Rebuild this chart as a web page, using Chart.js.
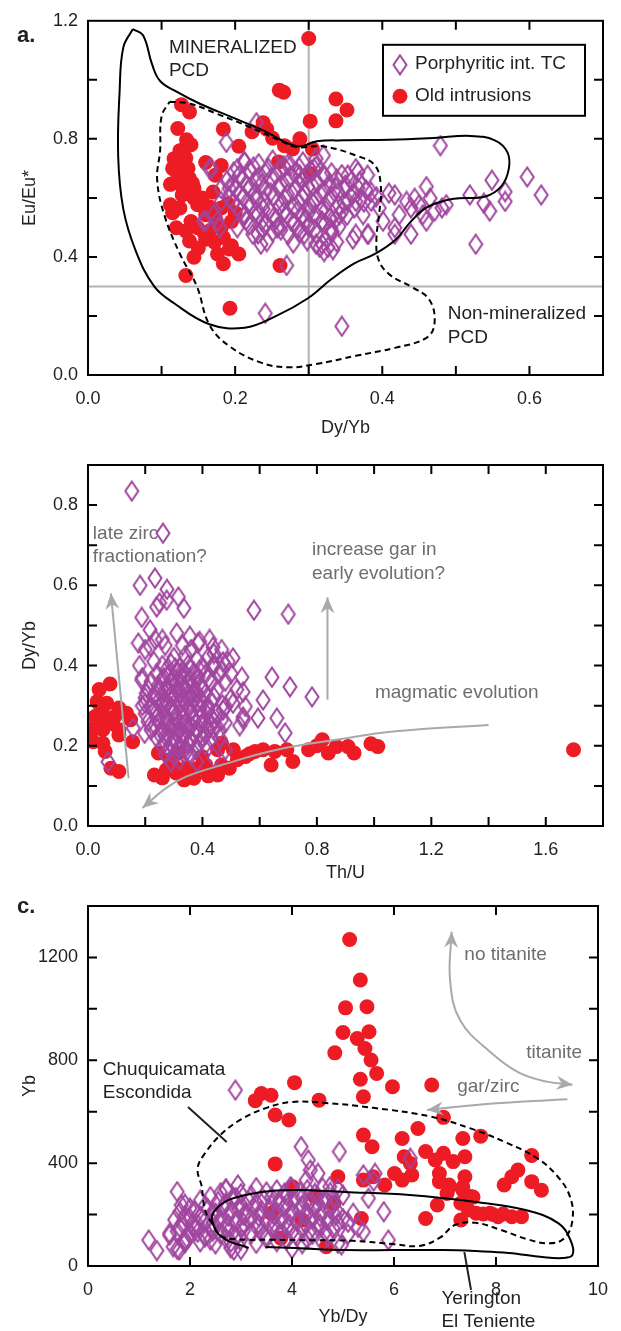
<!DOCTYPE html>
<html><head><meta charset="utf-8">
<script src="https://cdn.jsdelivr.net/npm/chart.js@4.4.1/dist/chart.umd.min.js"></script>
<style>
html,body{margin:0;padding:0;background:#fff;}
body{width:621px;height:1331px;position:relative;overflow:hidden;}
canvas{position:absolute;left:0;}
</style></head><body>
<canvas id="ca" width="621" height="450" style="top:0px"></canvas>
<canvas id="cb" width="621" height="450" style="top:440px"></canvas>
<canvas id="cc" width="621" height="451" style="top:880px"></canvas>
<script>
// ================= Panel a : Eu/Eu* vs Dy/Yb =================
const aXTicks = [0, 0.2, 0.4, 0.6];
const aXMinor = [0.1, 0.2, 0.3, 0.4, 0.5, 0.6];
const aYTicks = [0, 0.4, 0.8, 1.2];
const aYMinor = [0.2, 0.4, 0.6, 0.8, 1.0];
const aPorph = [
[0.188,0.788],[0.229,0.855],[0.479,0.777],[0.597,0.671],[0.616,0.61],[0.549,0.66],[0.519,0.61],[0.527,0.443],
[0.567,0.621],[0.567,0.588],[0.546,0.555],[0.538,0.582],[0.241,0.209],[0.345,0.165],[0.27,0.371],
[0.46,0.638],[0.444,0.599],[0.433,0.588],[0.481,0.566],[0.46,0.521],[0.439,0.477],[0.417,0.499],[0.409,0.616],
[0.396,0.566],[0.364,0.588],[0.364,0.477],[0.381,0.477],[0.353,0.677],[0.367,0.688],[0.32,0.677],[0.31,0.733],
[0.288,0.677],[0.275,0.71],[0.235,0.443],[0.224,0.477],[0.203,0.499],[0.16,0.521],[0.176,0.521],[0.31,0.443],
[0.326,0.432],[0.294,0.477],[0.257,0.499],[0.213,0.543],[0.192,0.632],[0.181,0.632],[0.168,0.699],[0.203,0.699],
[0.213,0.722],[0.417,0.61],[0.423,0.543],[0.401,0.521],[0.45,0.577],[0.455,0.543],[0.465,0.599],[0.471,0.555],
[0.487,0.577],[0.439,0.566],[0.417,0.477],[0.32,0.744],[0.307,0.7],[0.337,0.633],[0.353,0.588],[0.342,0.543],
[0.331,0.488],[0.315,0.432],[0.36,0.46],[0.38,0.477],[0.374,0.543],[0.367,0.633],[0.385,0.588],[0.364,0.699],
[0.38,0.677],[0.369,0.655],[0.157,0.521],[0.171,0.543],[0.179,0.499],[0.181,0.588],[0.165,0.699],
[0.212,0.724],[0.232,0.716],[0.251,0.728],[0.271,0.713],[0.292,0.722],
[0.198,0.688],[0.219,0.695],[0.241,0.684],[0.262,0.697],[0.282,0.686],[0.303,0.692],[0.331,0.685],
[0.189,0.658],[0.21,0.664],[0.228,0.652],[0.249,0.667],[0.27,0.655],[0.291,0.662],[0.312,0.651],[0.338,0.664],[0.358,0.657],
[0.201,0.628],[0.22,0.635],[0.241,0.622],[0.259,0.634],[0.281,0.626],[0.299,0.637],[0.321,0.624],[0.349,0.632],[0.378,0.627],
[0.192,0.598],[0.211,0.604],[0.229,0.593],[0.252,0.606],[0.268,0.596],[0.291,0.603],[0.309,0.592],[0.331,0.607],[0.371,0.598],[0.392,0.604],
[0.203,0.568],[0.222,0.576],[0.238,0.563],[0.261,0.574],[0.279,0.566],[0.302,0.572],[0.318,0.561],[0.341,0.575],[0.362,0.566],
[0.212,0.538],[0.231,0.545],[0.252,0.533],[0.27,0.546],[0.291,0.535],[0.309,0.544],[0.329,0.532],[0.352,0.541],
[0.219,0.508],[0.242,0.515],[0.259,0.503],[0.281,0.514],[0.299,0.506],[0.322,0.512],[0.341,0.503],
[0.231,0.478],[0.251,0.486],[0.272,0.475],[0.288,0.484],[0.311,0.476],[0.332,0.483],
[0.243,0.452],[0.279,0.447],[0.298,0.455],[0.318,0.444],[0.338,0.451],[0.321,0.418],[0.333,0.425],
[0.225,0.705],[0.245,0.701],[0.266,0.708],[0.287,0.703],[0.31,0.707],
[0.205,0.675],[0.232,0.671],[0.255,0.678],[0.276,0.672],[0.297,0.677],[0.322,0.674],[0.345,0.679],
[0.198,0.645],[0.216,0.641],[0.236,0.648],[0.262,0.643],[0.286,0.647],[0.305,0.642],[0.328,0.648],[0.35,0.644],
[0.206,0.615],[0.226,0.611],[0.248,0.618],[0.271,0.613],[0.294,0.617],[0.316,0.612],[0.34,0.618],[0.36,0.614],[0.385,0.619],
[0.198,0.585],[0.218,0.581],[0.24,0.588],[0.264,0.583],[0.286,0.587],[0.306,0.582],[0.326,0.588],[0.348,0.584],[0.375,0.586],
[0.207,0.555],[0.228,0.551],[0.246,0.558],[0.266,0.553],[0.285,0.557],[0.3,0.552],[0.323,0.558],[0.345,0.554],
[0.215,0.525],[0.236,0.521],[0.256,0.528],[0.276,0.523],[0.296,0.527],[0.318,0.522],[0.336,0.526],
[0.238,0.495],[0.262,0.491],[0.286,0.498],[0.308,0.493],[0.33,0.497]
];
const aOld = [
[0.30,1.14],[0.26,0.965],[0.266,0.958],[0.337,0.935],[0.352,0.898],[0.337,0.861],[0.302,0.86],
[0.127,0.916],[0.138,0.891],[0.122,0.835],[0.184,0.833],[0.223,0.824],[0.238,0.855],[0.243,0.833],[0.251,0.802],
[0.267,0.777],[0.278,0.766],[0.288,0.80],[0.305,0.766],[0.205,0.775],
[0.134,0.797],[0.131,0.766],[0.133,0.735],[0.117,0.733],[0.12,0.70],[0.136,0.70],[0.122,0.677],[0.138,0.666],
[0.112,0.646],[0.128,0.638],[0.144,0.633],[0.16,0.72],[0.181,0.71],[0.173,0.677],[0.259,0.722],[0.302,0.683],
[0.112,0.577],[0.125,0.566],[0.144,0.599],[0.149,0.577],[0.16,0.543],[0.12,0.499],[0.133,0.488],[0.149,0.499],
[0.165,0.488],[0.181,0.499],[0.173,0.532],[0.138,0.454],[0.16,0.46],[0.184,0.466],[0.144,0.399],[0.176,0.41],
[0.192,0.427],[0.205,0.41],[0.184,0.377],[0.133,0.337],[0.261,0.371],[0.193,0.226],
[0.125,0.76],[0.14,0.78],[0.115,0.7],[0.128,0.61],[0.155,0.6],[0.165,0.57],[0.14,0.52],[0.158,0.48],[0.172,0.45],
[0.15,0.43],[0.115,0.55],[0.19,0.58],[0.2,0.55],[0.195,0.52],[0.13,0.68],[0.142,0.65],[0.17,0.62],[0.181,0.566],[0.195,0.438]
];
const aMineralizedPCD = [[0.061,1.172],[0.075,1.15],[0.087,1.053],[0.098,0.996],[0.121,0.959],[0.152,0.919],[0.193,0.876],
[0.238,0.829],[0.284,0.775],[0.311,0.792],[0.347,0.795],[0.41,0.797],[0.47,0.803],[0.52,0.81],[0.553,0.795],[0.57,0.755],
[0.572,0.699],[0.562,0.64],[0.54,0.605],[0.497,0.597],[0.462,0.57],[0.44,0.523],[0.418,0.458],[0.39,0.41],[0.362,0.378],
[0.331,0.325],[0.299,0.26],[0.256,0.2],[0.213,0.16],[0.165,0.172],[0.117,0.243],[0.09,0.3],[0.065,0.42],[0.048,0.562],
[0.041,0.742],[0.043,0.963],[0.048,1.11],[0.061,1.172]];
const aNonMineralizedPCD = [[0.111,0.926],[0.139,0.919],[0.175,0.885],[0.22,0.84],[0.26,0.795],[0.284,0.772],[0.319,0.775],
[0.366,0.742],[0.39,0.71],[0.398,0.64],[0.396,0.55],[0.392,0.46],[0.395,0.39],[0.41,0.34],[0.44,0.298],[0.464,0.255],
[0.471,0.176],[0.46,0.126],[0.417,0.092],[0.364,0.065],[0.31,0.037],[0.272,0.026],[0.235,0.042],[0.192,0.098],[0.165,0.17],
[0.148,0.3],[0.125,0.41],[0.104,0.54],[0.094,0.662],[0.098,0.76],[0.1,0.876],[0.111,0.926]];
const aRefV = [[0.3,0],[0.3,1.2]];
const aRefH = [[0,0.3],[0.7,0.3]];

// ================= Panel b : Dy/Yb vs Th/U =================
const bXTicks = [0, 0.4, 0.8, 1.2, 1.6];
const bXMinor = [0.2, 0.4, 0.6, 0.8, 1.0, 1.2, 1.4, 1.6];
const bYTicks = [0, 0.2, 0.4, 0.6, 0.8];
const bYMinor = [0.1, 0.2, 0.3, 0.4, 0.5, 0.6, 0.7, 0.8];
const bPorph = [
[0.153,0.835],[0.262,0.73],[0.182,0.6],[0.234,0.618],[0.275,0.563],[0.316,0.571],[0.335,0.543],[0.24,0.546],[0.188,0.52],
[0.58,0.538],[0.7,0.528],[0.176,0.456],[0.217,0.489],[0.31,0.481],[0.188,0.364],[0.2,0.306],[0.158,0.244],[0.07,0.16],
[0.643,0.371],[0.706,0.347],[0.783,0.322],[0.538,0.371],[0.542,0.334],[0.612,0.314],[0.689,0.232],[0.66,0.269],
[0.594,0.269],[0.542,0.272],[0.507,0.306],[0.472,0.289],[0.507,0.419],[0.472,0.409],[0.437,0.446],
[0.235,0.465],[0.26,0.465],[0.218,0.448],[0.356,0.473],[0.384,0.456],[0.425,0.465],[0.467,0.44],[0.467,0.39],
[0.439,0.398],[0.55,0.298],[0.543,0.265],[0.481,0.298],[0.467,0.265],[0.439,0.24],[0.198,0.231],[0.204,0.331],
[0.25,0.556],[0.276,0.59],[0.2,0.44],[0.23,0.41],[0.18,0.4],[0.19,0.37],[0.27,0.45],[0.33,0.45],[0.36,0.44],
[0.39,0.46],[0.44,0.43],[0.49,0.41],[0.5,0.38],[0.52,0.34],[0.53,0.25],[0.46,0.22],[0.48,0.19],[0.44,0.17],[0.38,0.16],
[0.30,0.42],[0.34,0.425],[0.38,0.415],[0.42,0.42],
[0.26,0.40],[0.29,0.405],[0.32,0.395],[0.35,0.402],[0.40,0.398],[0.44,0.404],
[0.24,0.38],[0.28,0.376],[0.31,0.385],[0.34,0.378],[0.37,0.383],[0.41,0.377],[0.46,0.381],
[0.22,0.36],[0.26,0.365],[0.29,0.356],[0.32,0.362],[0.35,0.355],[0.38,0.364],[0.43,0.358],[0.48,0.361],
[0.21,0.34],[0.25,0.336],[0.28,0.345],[0.31,0.338],[0.34,0.343],[0.37,0.335],[0.40,0.344],[0.45,0.338],
[0.20,0.32],[0.23,0.324],[0.27,0.316],[0.30,0.323],[0.33,0.317],[0.36,0.325],[0.39,0.318],[0.44,0.322],[0.50,0.318],
[0.19,0.30],[0.22,0.296],[0.26,0.305],[0.29,0.297],[0.32,0.303],[0.35,0.296],[0.38,0.304],[0.42,0.298],[0.47,0.302],
[0.20,0.28],[0.24,0.284],[0.27,0.276],[0.30,0.283],[0.33,0.277],[0.36,0.285],[0.40,0.278],[0.45,0.282],
[0.21,0.26],[0.25,0.265],[0.28,0.256],[0.31,0.263],[0.34,0.257],[0.37,0.264],[0.41,0.258],[0.44,0.262],[0.48,0.257],
[0.22,0.24],[0.26,0.236],[0.29,0.245],[0.32,0.238],[0.35,0.244],[0.38,0.237],[0.42,0.243],[0.46,0.239],
[0.24,0.22],[0.27,0.224],[0.30,0.216],[0.33,0.223],[0.36,0.217],[0.40,0.222],[0.43,0.218],
[0.26,0.20],[0.29,0.204],[0.32,0.196],[0.35,0.203],[0.38,0.197],[0.41,0.202],
[0.27,0.18],[0.30,0.176],[0.33,0.184],[0.36,0.178],[0.29,0.16],[0.32,0.165],
[0.275,0.39],[0.305,0.394],[0.33,0.387],[0.36,0.392],[0.39,0.388],
[0.265,0.37],[0.295,0.366],[0.325,0.373],[0.355,0.368],[0.385,0.372],[0.42,0.367],
[0.245,0.35],[0.275,0.346],[0.305,0.353],[0.335,0.348],[0.365,0.352],[0.395,0.347],
[0.235,0.33],[0.265,0.334],[0.29,0.327],[0.32,0.332],[0.35,0.328],[0.38,0.333],[0.41,0.329],
[0.245,0.31],[0.275,0.306],[0.31,0.313],[0.34,0.308],[0.37,0.312],[0.40,0.307],[0.43,0.311],
[0.235,0.29],[0.265,0.294],[0.30,0.287],[0.33,0.292],[0.36,0.288],[0.39,0.293],[0.42,0.289],
[0.24,0.27],[0.275,0.266],[0.305,0.273],[0.335,0.268],[0.365,0.272],[0.39,0.267],[0.43,0.271],
[0.235,0.25],[0.27,0.254],[0.30,0.247],[0.33,0.252],[0.36,0.248],[0.395,0.253],[0.43,0.249],
[0.25,0.23],[0.28,0.226],[0.31,0.233],[0.34,0.228],[0.37,0.232],[0.41,0.227],
[0.27,0.21],[0.30,0.214],[0.33,0.207],[0.36,0.212],[0.39,0.208],
[0.285,0.19],[0.315,0.194],[0.345,0.187],[0.375,0.192]
];
const bOld = [
[0.039,0.34],[0.077,0.354],[0.032,0.31],[0.066,0.306],[0.108,0.294],[0.025,0.273],[0.06,0.273],[0.094,0.273],[0.149,0.265],
[0.018,0.24],[0.052,0.24],[0.108,0.24],[0.018,0.21],[0.052,0.206],[0.108,0.227],[0.156,0.21],[0.06,0.186],[0.08,0.144],
[0.108,0.136],[0.025,0.248],[0.135,0.281],[0.045,0.29],[0.085,0.255],
[0.232,0.127],[0.246,0.182],[0.287,0.165],[0.308,0.132],[0.336,0.115],[0.37,0.119],[0.342,0.144],[0.384,0.144],[0.412,0.152],
[0.453,0.127],[0.467,0.152],[0.494,0.144],[0.522,0.165],[0.508,0.19],[0.55,0.173],[0.584,0.186],[0.612,0.19],[0.64,0.152],
[0.653,0.186],[0.695,0.19],[0.716,0.161],[0.771,0.19],[0.819,0.215],[0.84,0.182],[0.868,0.198],[0.93,0.182],[0.989,0.205],
[1.013,0.198],[1.697,0.19],[0.453,0.19],[0.398,0.173],[0.315,0.182],[0.274,0.14],[0.467,0.206],[0.909,0.198],[0.8,0.2],
[0.439,0.132],[0.565,0.18],[0.36,0.13],[0.3,0.15],[0.42,0.125],[0.26,0.12]
];
const bArrowZircon = [[0.142,0.119],[0.08,0.58]];
const bArrowGarnet = [[0.837,0.315],[0.837,0.57]];
const bArrowMagmatic = [[1.4,0.252],[1.075,0.236],[0.868,0.215],[0.66,0.19],[0.467,0.152],[0.343,0.123],[0.274,0.095],[0.19,0.045]];

// ================= Panel c : Yb vs Yb/Dy =================
const cXTicks = [0, 2, 4, 6, 8, 10];
const cXMinor = [2, 4, 6, 8];
const cYTicks = [0, 400, 800, 1200];
const cYMinor = [200, 400, 600, 800, 1000, 1200];
const cPorph = [
[2.89,684],[4.18,464],[4.93,445],[6.32,419],[4.32,412],[4.36,373],[1.75,289],[2.94,315],[2.71,298],[1.83,237],[1.19,101],
[1.35,60],[1.6,127],[1.67,75],[1.79,62],[1.9,101],[2.06,153],[2.21,192],[2.29,114],[2.44,205],[2.86,62],[5.8,211],
[5.5,263],[5.4,354],[5.4,133],[5.63,360],[4.97,82],[5.89,101],[5.2,205],[4.74,308],[4.51,360],[4.28,334],[3.97,308],
[5.6,330],[5.3,150],[5.1,170],
[2.7,300],[3.3,305],[3.7,296],[4.0,302],[4.3,297],[4.6,304],[4.9,298],
[2.4,270],[2.9,266],[3.2,274],[3.6,268],[3.9,273],[4.2,265],[4.5,272],[4.8,267],[5.0,275],
[1.9,240],[2.3,236],[2.7,244],[3.0,238],[3.3,245],[3.6,237],[3.9,243],[4.2,236],[4.5,244],[4.8,239],
[1.8,210],[2.1,214],[2.5,206],[2.8,213],[3.1,207],[3.4,215],[3.7,208],[4.0,212],[4.3,205],[4.6,213],[4.9,208],
[1.7,180],[2.0,184],[2.3,176],[2.6,183],[2.9,177],[3.2,185],[3.5,178],[3.8,182],[4.1,175],[4.4,183],[4.7,178],[5.0,184],
[1.8,150],[2.1,154],[2.4,146],[2.7,153],[3.0,147],[3.3,155],[3.6,148],[3.9,152],[4.2,145],[4.5,153],[4.8,148],
[1.6,120],[2.0,124],[2.3,116],[2.6,123],[2.9,117],[3.2,125],[3.5,118],[3.8,122],[4.1,115],[4.4,123],[4.7,118],[5.1,124],
[1.9,90],[2.2,94],[2.5,86],[2.8,93],[3.3,88],[3.7,95],[4.2,87],[4.6,92],[4.9,88],
[1.75,65],[2.8,70],[3.0,64],[4.0,68],
[2.6,285],[3.0,281],[3.5,288],[3.85,283],[4.15,287],[4.45,282],[4.75,286],
[2.2,255],[2.55,251],[2.85,258],[3.15,253],[3.45,257],[3.75,252],[4.05,258],[4.35,253],[4.65,257],
[2.0,225],[2.35,221],[2.65,228],[2.95,223],[3.25,227],[3.55,222],[3.85,228],[4.15,223],[4.45,227],[4.75,222],
[1.9,195],[2.2,191],[2.45,198],[2.75,193],[3.05,197],[3.35,192],[3.65,198],[3.95,193],[4.25,197],[4.55,192],[4.85,196],
[1.85,165],[2.15,161],[2.45,168],[2.75,163],[3.05,167],[3.35,162],[3.65,168],[3.95,163],[4.25,167],[4.55,162],[4.9,166],
[1.75,135],[2.15,131],[2.45,138],[2.75,133],[3.05,137],[3.4,132],[3.7,138],[4.0,133],[4.35,137],[4.65,132],
[1.95,105],[2.4,101],[2.7,108],[3.0,103],[3.5,107],[3.9,102],[4.3,106]
];
const cOld = [
[5.13,1270],[5.34,1112],[5.05,1004],[5.47,1008],[5.0,908],[5.51,911],[4.84,829],[5.28,885],[5.43,846],[5.55,801],
[5.66,749],[5.34,726],[5.4,658],[4.05,713],[5.97,697],[6.74,704],[3.28,643],[3.4,671],[3.59,664],[3.67,587],[3.94,568],
[4.53,645],[6.97,578],[6.47,535],[5.4,509],[5.57,464],[6.16,496],[7.35,496],[7.7,505],[3.67,397],[6.2,425],[6.32,399],
[6.62,445],[6.81,412],[6.97,438],[7.16,406],[7.39,425],[8.7,430],[6.01,360],[6.16,334],[6.35,354],[6.89,360],[6.89,328],
[7.08,315],[7.39,347],[7.04,282],[7.35,295],[7.5,270],[7.31,244],[7.46,218],[7.61,205],[7.88,205],[8.04,192],[8.31,192],
[8.5,192],[8.16,315],[8.31,347],[8.43,373],[8.7,328],[8.89,295],[6.62,185],[6.85,237],[7.31,179],[5.82,315],[5.59,347],
[5.4,334],[4.9,347],[5.36,185],[4.44,270],[4.67,75],[3.78,108],[3.59,205],[4.01,308],[4.82,244],[4.2,179],[7.75,202],
[7.94,200],[8.14,202],[7.09,307],[7.35,307],[7.55,268]
];
const cChuquicamata = [[2.23,310],[2.15,380],[2.3,440],[2.6,510],[3.0,570],[3.5,615],[4.0,638],[4.6,635],[5.6,615],[6.7,582],
[7.5,535],[8.2,480],[8.8,420],[9.2,350],[9.45,270],[9.5,180],[9.35,110],[9.05,88],[8.6,105],[8.1,140],[7.6,168],[7.2,160],
[6.9,110],[6.5,78],[6.0,85],[5.2,98],[4.4,100],[3.6,102],[2.9,104],[2.6,118],[2.45,160],[2.3,215],[2.23,310]];
const cYerington = [[3.15,70],[2.62,113],[2.43,179],[2.5,218],[2.76,257],[3.4,288],[4.06,296],[5.03,288],[6.31,276],[7.61,249],
[8.58,218],[9.22,167],[9.46,101],[9.5,43],[9.3,31],[8.91,35],[8.25,51],[7.61,58],[6.97,62],[6.0,62],[5.03,62],[4.06,70],[3.48,74]];
const cArrowTitanite = [[7.13,1300],[7.1,1110],[7.3,955],[7.9,830],[8.45,752],[9.0,717],[9.5,705]];
const cArrowGarZirc = [[9.4,648],[8.0,633],[6.65,607]];
const cLeaderChuqui = [[1.96,618],[2.72,482]];
const cLeaderYerington = [[7.38,54],[7.51,-93]];

// ================= styling =================
const FONT = '"Liberation Sans", Arial, Helvetica, sans-serif';
const RED = '#ed1c24', PURPLE = '#a1459f', GRAY = '#a7a9ac', TXT = '#231f20', GTXT = '#6d6e71';

function diamondImg() {
  const c = document.createElement('canvas'); c.width = 16; c.height = 22;
  const g = c.getContext('2d'); g.strokeStyle = PURPLE; g.lineWidth = 2;
  g.beginPath(); g.moveTo(8, 1.5); g.lineTo(14.5, 11); g.lineTo(8, 20.5); g.lineTo(1.5, 11); g.closePath(); g.stroke();
  return c;
}
const DIAMOND = diamondImg();

function porphDS(d) { return {label: 'Porphyritic int. TC', data: d, pointStyle: DIAMOND, order: 1}; }
function oldDS(d) { return {label: 'Old intrusions', data: d, pointStyle: 'circle', pointRadius: 7.5, backgroundColor: RED, borderWidth: 0, order: 2}; }
function lineDS(d, color, dash, order, width) {
  return {data: d, showLine: true, pointRadius: 0, borderColor: color, borderWidth: width || 2, borderDash: dash || [],
          tension: 0.4, fill: false, order: order};
}

function head(ctx, x1, y1, x2, y2) {
  const a = Math.atan2(y2 - y1, x2 - x1), L = 16, W = 7;
  ctx.save(); ctx.translate(x2, y2); ctx.rotate(a); ctx.fillStyle = GRAY;
  ctx.beginPath(); ctx.moveTo(0, 0); ctx.lineTo(-L, -W); ctx.lineTo(-L * 0.68, 0); ctx.lineTo(-L, W); ctx.closePath(); ctx.fill();
  ctx.restore();
}

function decor(spec) {
  return {
    id: 'decor',
    afterDatasetsDraw(chart) {
      const {ctx, scales: {x, y}} = chart;
      const X = v => x.getPixelForValue(v), Y = v => y.getPixelForValue(v);
      ctx.save();
      (spec.heads || []).forEach(([p, q]) => head(ctx, X(p[0]), Y(p[1]), X(q[0]), Y(q[1])));
      (spec.leaders || []).forEach(l => {
        ctx.strokeStyle = TXT; ctx.lineWidth = 2; ctx.beginPath();
        ctx.moveTo(X(l[0][0]), Y(l[0][1])); ctx.lineTo(X(l[1][0]), Y(l[1][1])); ctx.stroke();
      });
      ctx.textBaseline = 'middle';
      (spec.texts || []).forEach(t => {
        ctx.font = '19px ' + FONT; ctx.fillStyle = t.c || TXT; ctx.textAlign = t.align || 'left';
        ctx.fillText(t.s, X(t.x), Y(t.y));
      });
      ctx.restore();
    },
    afterDraw(chart) {
      const {ctx, chartArea: ca, scales: {x, y}} = chart;
      ctx.save();
      ctx.strokeStyle = '#000'; ctx.lineWidth = 2;
      ctx.strokeRect(ca.left, ca.top, ca.right - ca.left, ca.bottom - ca.top);
      const T = 9;
      ctx.beginPath();
      spec.xMinor.forEach(v => { const p = x.getPixelForValue(v);
        ctx.moveTo(p, ca.bottom); ctx.lineTo(p, ca.bottom - T); ctx.moveTo(p, ca.top); ctx.lineTo(p, ca.top + T); });
      spec.yMinor.forEach(v => { const p = y.getPixelForValue(v);
        ctx.moveTo(ca.left, p); ctx.lineTo(ca.left + T, p); ctx.moveTo(ca.right, p); ctx.lineTo(ca.right - T, p); });
      ctx.stroke();
      if (spec.letter) {
        ctx.font = 'bold 22px ' + FONT; ctx.fillStyle = TXT; ctx.textBaseline = 'middle'; ctx.textAlign = 'left';
        ctx.fillText(spec.letter, 17, spec.letterY);
      }
      if (spec.legend) {
        const lx = ca.left + 295, ly = ca.top + 24;
        ctx.lineWidth = 2; ctx.strokeStyle = '#000';
        ctx.strokeRect(lx, ly, 202, 71);
        ctx.drawImage(DIAMOND, lx + 17 - 8, ly + 20 - 11);
        ctx.fillStyle = RED; ctx.beginPath(); ctx.arc(lx + 17, ly + 51.5, 7.5, 0, Math.PI * 2); ctx.fill();
        ctx.font = '19px ' + FONT; ctx.fillStyle = TXT; ctx.textBaseline = 'middle'; ctx.textAlign = 'left';
        ctx.fillText(chart.data.datasets[0].label, lx + 32, ly + 19);
        ctx.fillText(chart.data.datasets[1].label, lx + 32, ly + 51);
      }
      ctx.restore();
    }
  };
}

function makeChart(id, spec) {
  return new Chart(document.getElementById(id), {
    type: 'scatter',
    data: {datasets: spec.datasets},
    options: {
      responsive: false, animation: false, devicePixelRatio: 1, events: [],
      layout: {padding: {left: 0, right: 18, top: spec.plotTop, bottom: 0}},
      plugins: {legend: {display: false}, tooltip: {enabled: false}},
      scales: {
        x: {type: 'linear', min: spec.xMin, max: spec.xMax,
            afterFit: s => { s.height = spec.xH; },
            afterBuildTicks: s => { s.ticks = spec.xTicks.map(v => ({value: v})); },
            grid: {display: false, drawTicks: false}, border: {display: false},
            ticks: {color: TXT, font: {family: FONT, size: 18}, padding: 13, maxRotation: 0, autoSkip: false,
                    callback: v => spec.fmt(v)},
            title: {display: true, text: spec.xTitle, color: TXT, font: {family: FONT, size: 18},
                    padding: {top: 0, bottom: spec.xTitlePad}}},
        y: {type: 'linear', min: spec.yMin, max: spec.yMax,
            afterFit: s => { s.width = 88; },
            afterBuildTicks: s => { s.ticks = spec.yTicks.map(v => ({value: v})); },
            grid: {display: false, drawTicks: false}, border: {display: false},
            ticks: {color: TXT, font: {family: FONT, size: 18}, padding: 10, autoSkip: false,
                    callback: v => spec.fmt(v)},
            title: {display: true, text: spec.yTitle, color: TXT, font: {family: FONT, size: 18},
                    padding: {top: 19, bottom: 0}}}
      }
    },
    plugins: [decor(spec)]
  });
}

const f1 = v => v.toFixed(1), f0 = v => String(Math.round(v));

makeChart('ca', {
  plotTop: 16, xH: 75, xTitlePad: 11, xMin: 0, xMax: 0.7, yMin: 0, yMax: 1.2,
  xTicks: aXTicks, yTicks: aYTicks, xMinor: aXMinor, yMinor: aYMinor, fmt: f1,
  xTitle: 'Dy/Yb', yTitle: 'Eu/Eu*', letter: 'a.', letterY: 36, legend: true,
  datasets: [porphDS(aPorph), oldDS(aOld),
    lineDS(aMineralizedPCD, '#000', [], 0), lineDS(aNonMineralizedPCD, '#000', [6, 4], 0),
    lineDS(aRefV, '#b3b3b3', [], 3), lineDS(aRefH, '#b3b3b3', [], 3)],
  texts: [
    {s: 'MINERALIZED', x: 0.110, y: 1.11}, {s: 'PCD', x: 0.110, y: 1.03},
    {s: 'Non-mineralized', x: 0.489, y: 0.207}, {s: 'PCD', x: 0.489, y: 0.127}
  ]
});

makeChart('cb', {
  plotTop: 25, xH: 64, xTitlePad: 6, xMin: 0, xMax: 1.8, yMin: 0, yMax: 0.9,
  xTicks: bXTicks, yTicks: bYTicks, xMinor: bXMinor, yMinor: bYMinor, fmt: f1,
  xTitle: 'Th/U', yTitle: 'Dy/Yb',
  datasets: [porphDS(bPorph), oldDS(bOld),
    lineDS(bArrowZircon, GRAY, [], 0), lineDS(bArrowGarnet, GRAY, [], 0), lineDS(bArrowMagmatic, GRAY, [], 0)],
  heads: [[bArrowZircon[0], bArrowZircon[1]], [bArrowGarnet[0], bArrowGarnet[1]],
          [bArrowMagmatic[bArrowMagmatic.length - 2], bArrowMagmatic[bArrowMagmatic.length - 1]]],
  texts: [
    {s: 'late zirc', x: 0.017, y: 0.728, c: GTXT}, {s: 'fractionation?', x: 0.017, y: 0.671, c: GTXT},
    {s: 'increase gar in', x: 0.783, y: 0.688, c: GTXT}, {s: 'early evolution?', x: 0.783, y: 0.628, c: GTXT},
    {s: 'magmatic evolution', x: 1.003, y: 0.332, c: GTXT}
  ]
});

makeChart('cc', {
  plotTop: 26, xH: 65, xTitlePad: 3, xMin: 0, xMax: 10, yMin: 0, yMax: 1400,
  xTicks: cXTicks, yTicks: cYTicks, xMinor: cXMinor, yMinor: cYMinor, fmt: f0,
  xTitle: 'Yb/Dy', yTitle: 'Yb', letter: 'c.', letterY: 27,
  datasets: [porphDS(cPorph), oldDS(cOld),
    lineDS(cChuquicamata, '#000', [6, 4], 0), lineDS(cYerington, '#000', [], 0),
    lineDS(cArrowTitanite, GRAY, [], 0), lineDS(cArrowGarZirc, GRAY, [], 0)],
  heads: [[cArrowTitanite[1], cArrowTitanite[0]],
          [cArrowTitanite[cArrowTitanite.length - 2], cArrowTitanite[cArrowTitanite.length - 1]],
          [cArrowGarZirc[cArrowGarZirc.length - 2], cArrowGarZirc[cArrowGarZirc.length - 1]]],
  leaders: [cLeaderChuqui, cLeaderYerington],
  texts: [
    {s: 'no titanite', x: 7.38, y: 1209, c: GTXT}, {s: 'titanite', x: 9.69, y: 828, c: GTXT, align: 'right'},
    {s: 'gar/zirc', x: 7.24, y: 696, c: GTXT},
    {s: 'Chuquicamata', x: 0.29, y: 762}, {s: 'Escondida', x: 0.29, y: 673},
    {s: 'Yerington', x: 6.93, y: -128}, {s: 'El Teniente', x: 6.93, y: -218}
  ]
});
</script>
</body></html>
